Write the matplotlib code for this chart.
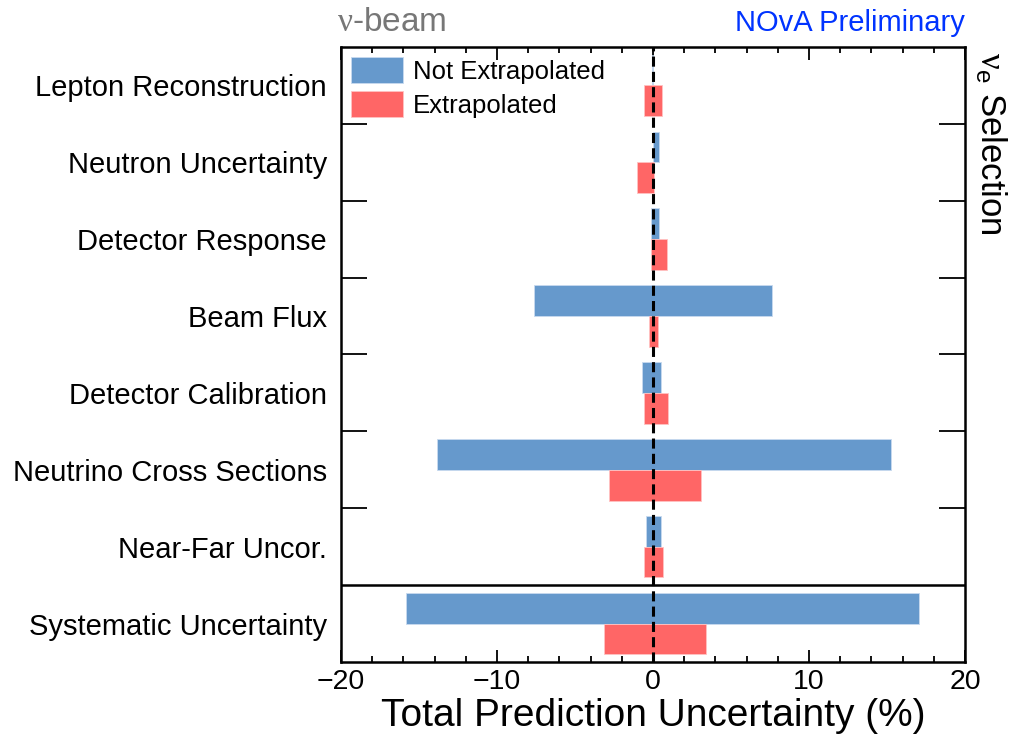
import numpy as np
import matplotlib.pyplot as plt
from matplotlib.ticker import MultipleLocator, FixedLocator

plt.rcParams['font.family'] = ['Liberation Sans', 'DejaVu Sans']
plt.rcParams['mathtext.fontset'] = 'custom'
plt.rcParams['mathtext.rm'] = 'Liberation Serif'
plt.rcParams['mathtext.sf'] = 'Liberation Sans'
plt.rcParams['mathtext.it'] = 'Liberation Sans:italic'

# systematic sources, top to bottom
categories = ['Lepton Reconstruction', 'Neutron Uncertainty', 'Detector Response',
              'Beam Flux', 'Detector Calibration', 'Neutrino Cross Sections',
              'Near-Far Uncor.', 'Systematic Uncertainty']

# -1 sigma / +1 sigma shifts of the prediction (%)
not_extrap_lo = [-0.03, -0.02, -0.1, -7.6, -0.72, -13.85, -0.45, -15.85]
not_extrap_hi = [0.03, 0.4, 0.38, 7.65, 0.5, 15.25, 0.5, 17.05]
extrap_lo = [-0.6, -1.0, -0.1, -0.28, -0.55, -2.8, -0.6, -3.15]
extrap_hi = [0.55, 0.05, 0.88, 0.32, 0.94, 3.05, 0.62, 3.4]

blue = '#6699cc'
red = '#ff6666'
nu = '\u03bd'

fig = plt.figure(figsize=(10.1, 7.38), dpi=100)
ax = fig.add_axes([0.3376, 0.103, 0.6178, 0.8333])

y = np.arange(len(categories))
lo1, hi1 = np.array(not_extrap_lo), np.array(not_extrap_hi)
lo2, hi2 = np.array(extrap_lo), np.array(extrap_hi)
ax.barh(y - 0.2, hi1 - lo1, left=lo1, height=0.4, color=blue,
        edgecolor='#c8daef', linewidth=0.6, label='Not Extrapolated', zorder=2)
ax.barh(y + 0.2, hi2 - lo2, left=lo2, height=0.4, color=red,
        edgecolor='#ffc2c2', linewidth=0.6, label='Extrapolated', zorder=2)

ax.axvline(0, color='black', lw=2.2, ls=(0, (3.3, 1.7)), zorder=3)
ax.axhline(6.5, color='black', lw=1.8, zorder=3)

ax.set_xlim(-20, 20)
ax.set_ylim(7.5, -0.5)

ax.set_xticks([-20, -10, 0, 10, 20])
ax.set_xticklabels(['\u221220', '\u221210', '0', '10', '20'], fontsize=20.5)
ax.xaxis.set_minor_locator(MultipleLocator(2))
ax.tick_params(axis='x', which='major', direction='in', length=9, width=1.3,
               top=True, bottom=True, pad=5)
ax.tick_params(axis='x', which='minor', direction='in', length=4.5, width=1.3,
               top=True, bottom=True)

ax.set_yticks(y)
ax.set_yticklabels(categories, fontsize=21)
ax.yaxis.set_minor_locator(FixedLocator(np.arange(0.5, 6.5, 1.0)))
ax.tick_params(axis='y', which='major', length=0, pad=10)
ax.tick_params(axis='y', which='minor', direction='in', length=19, width=1.3,
               left=True, right=True)

for s in ax.spines.values():
    s.set_linewidth(1.8)

ax.set_xlabel('Total Prediction Uncertainty (%)', fontsize=28, labelpad=2)

leg = ax.legend(loc='upper left', frameon=False, fontsize=18.5,
                handlelength=2.0, handleheight=1.15, handletextpad=0.4,
                labelspacing=0.3, borderaxespad=0.3, borderpad=0.1)

fig.text(0.334, 0.969, '$\\mathrm{' + nu + '}$-beam', color='#777777',
         fontsize=24, ha='left', va='center')
fig.text(0.955, 0.969, 'NOvA Preliminary', color='#0033ff', fontsize=21,
         ha='right', va='center')
fig.text(0.981, 0.93, '$\\mathrm{' + nu + '}_{\\mathsf{e}}$ Selection',
         color='black', fontsize=25, rotation=270, ha='center', va='top')

fig.savefig('out.png', dpi=100)
